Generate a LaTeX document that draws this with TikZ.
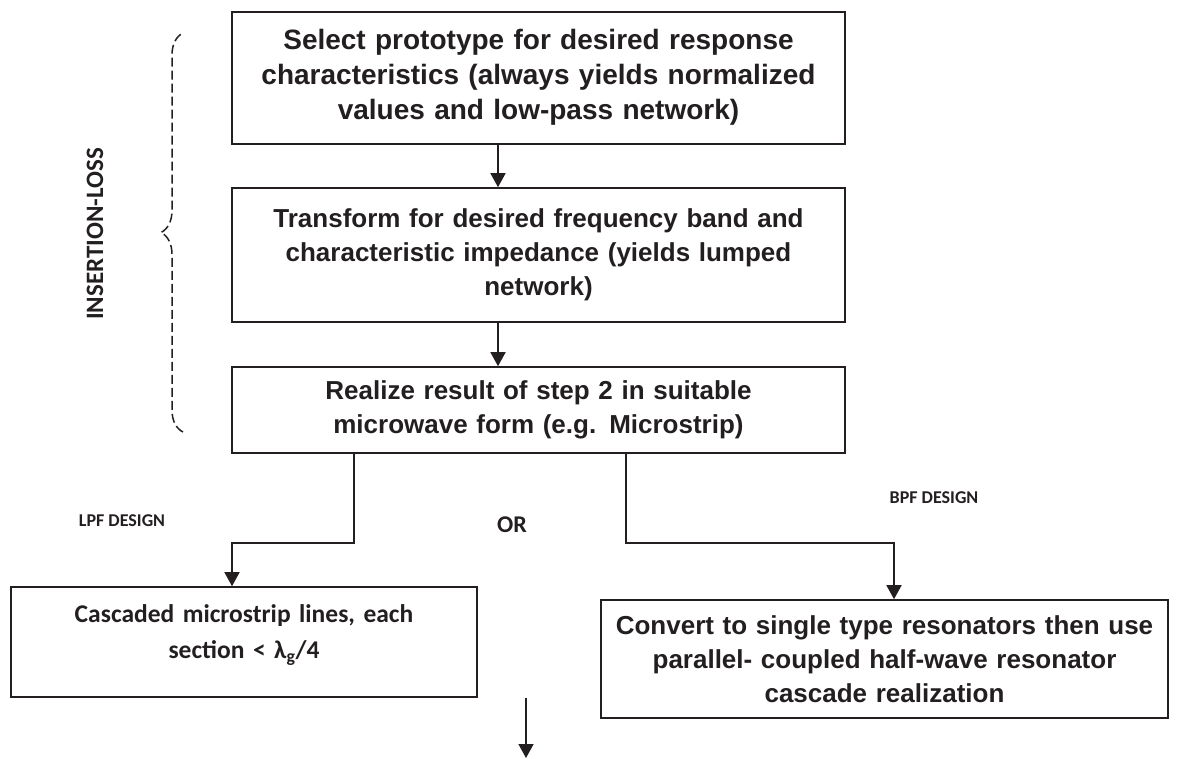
\documentclass[tikz,border=0pt]{standalone}
\usepackage{fontspec}
\setmainfont{Liberation Sans}
\newfontfamily\calib{Carlito}
\usetikzlibrary{arrows.meta,decorations.pathreplacing}
\definecolor{ink}{RGB}{35,31,32}
\tikzset{%
 >={Triangle[length=14pt,width=15pt]},
 stepbox/.style={draw=ink, line width=1.6pt, text=ink, align=center, inner sep=0pt,
   font=\fontsize{26}{34}\selectfont\bfseries},
 realbox/.style={stepbox, font=\calib\fontsize{25.5}{36}\selectfont\bfseries},
 flow/.style={->, draw=ink, line width=1.6pt},
 lbl/.style={text=ink, font=\calib\fontsize{18}{20}\selectfont\bfseries}
}

\begin{document}
\begin{tikzpicture}[x=1pt, y=-1pt]
 \useasboundingbox (0,0) rectangle (1182,759);

 % insertion-loss steps
 \node [stepbox, font=\fontsize{28}{35}\selectfont\bfseries,
        minimum width=613pt, minimum height=132pt, text width=605pt] (sel) at (538.5,78)
  {Select prototype for desired response\\ characteristics (always yields normalized\\ values and low-pass network)\\[-27pt]\mbox{}};
 \node [stepbox, minimum width=613pt, minimum height=134pt, text width=600pt] (trans) at (538.5,255)
  {Transform for desired frequency band and\\ characteristic impedance (yields lumped\\ network)};
 \node [stepbox, minimum width=613pt, minimum height=86pt, text width=600pt] (real) at (538.5,410)
  {Realize result of step 2 in suitable\\ microwave form (e.g. Microstrip)};

 \foreach \a/\b in {sel/trans, trans/real}
  \draw [flow] ([xshift=-40.5pt]\a.south) -- ([xshift=-40.5pt]\b.north);

 \draw [ink, line width=1.5pt, dashed, dash pattern=on 9pt off 4pt,
        decorate, decoration={brace, amplitude=22pt}] (183,432) -- (183,33);
 \node [lbl, rotate=90, font=\calib\fontsize{25}{28}\selectfont\bfseries] (il) at (95,234) {INSERTION-LOSS};

 % the two realizations
 \node [realbox, minimum width=466pt, minimum height=110pt, text width=455pt] (lpf) at (244,642)
  {Cascaded microstrip lines, each\\ section < λ\textsubscript{g}/4\\[-15pt]\mbox{}};
 \node [stepbox, minimum width=567pt, minimum height=118pt, text width=560pt] (bpf) at (884.5,659)
  {Convert to single type resonators then use\\ parallel- coupled half-wave resonator\\ cascade realization};

 \draw [flow] ([xshift=-184.5pt]real.south) -- ++(0,89) -| ([xshift=-12pt]lpf.north);
 \draw [flow] ([xshift=87.5pt]real.south) -- ++(0,89) -| ([xshift=9.5pt]bpf.north);

 \node [lbl] (lpflbl) at (122,521) {LPF DESIGN};
 \node [lbl] (bpflbl) at (934,498) {BPF DESIGN};
 \node [lbl, font=\calib\fontsize{24}{28}\selectfont\bfseries] (or) at (512,525) {OR};

 \coordinate (outtop) at (526,698);
 \coordinate (outend) at (526,758);
 \draw [flow] (outtop) -- (outend);
\end{tikzpicture}
\end{document}
